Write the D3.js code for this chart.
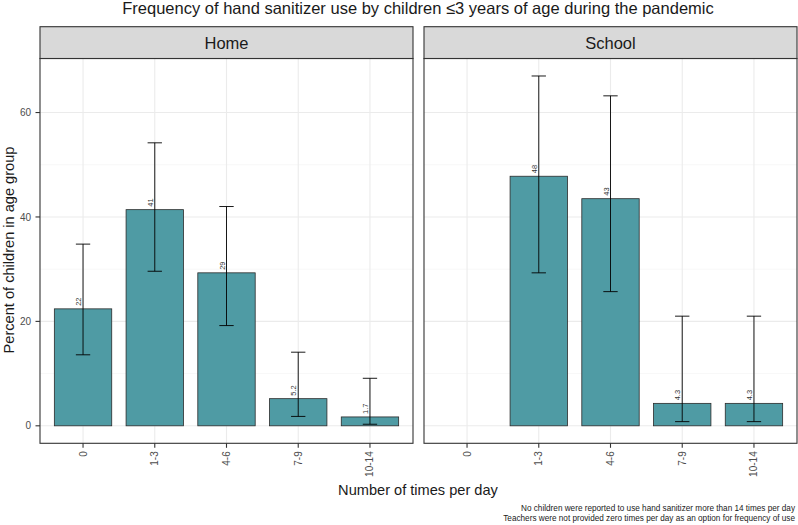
<!DOCTYPE html>
<html><head><meta charset="utf-8">
<script src="https://cdn.jsdelivr.net/npm/d3@7"></script>
<style>body{margin:0;background:#fff;} text{font-family:"Liberation Sans",Arial,sans-serif;}</style>
</head><body><svg id="c" width="798" height="525"></svg>
<script>
const categories = ["0","1-3","4-6","7-9","10-14"];
const panels = ["Home","School"];
const homeValues = [22.4, 41.4, 29.3, 5.2, 1.7];
const homeLabels = ["22","41","29","5.2","1.7"];
const homeLower = [13.6, 29.6, 19.2, 1.8, 0.3];
const homeUpper = [34.8, 54.2, 42.0, 14.1, 9.1];
const schoolValues = [null, 47.8, 43.5, 4.3, 4.3];
const schoolLabels = [null, "48","43","4.3","4.3"];
const schoolLower = [null, 29.3, 25.7, 0.8, 0.8];
const schoolUpper = [null, 67.0, 63.2, 21.0, 21.0];
const yTicks = [0,20,40,60];
const yMinor = [10,30,50];
const title = "Frequency of hand sanitizer use by children \u22643 years of age during the pandemic";
const xTitle = "Number of times per day";
const yTitle = "Percent of children in age group";
const captions = ["No children were reported to use hand sanitizer more than 14 times per day",
                  "Teachers were not provided zero times per day as an option for frequency of use"];

(function(){
const svg = d3.select("#c");
const panelData = [
  {name: panels[0], values: homeValues, labels: homeLabels, lower: homeLower, upper: homeUpper, x0: 40, x1: 413},
  {name: panels[1], values: schoolValues, labels: schoolLabels, lower: schoolLower, upper: schoolUpper, x0: 424, x1: 797}
];
const pTop = 58.5, pBottom = 443.3, stripTop = 26.7;
const y = d3.scaleLinear().domain([-3.35, 70.35]).range([pBottom, pTop]);

svg.append("text").attr("x", 418).attr("y", 14).attr("text-anchor","middle")
  .attr("font-size", 16.5).attr("fill","#1a1a1a").text(title);

panelData.forEach((p, pi) => {
  const x = d3.scaleBand().domain(categories).range([p.x0, p.x1]).paddingInner(0.2).paddingOuter(0.2);
  const bw = x.bandwidth();
  const step = x.step();
  const cx = d => x(d) + bw/2;
  const g = svg.append("g");
  yMinor.forEach(t => g.append("line").attr("x1", p.x0).attr("x2", p.x1).attr("y1", y(t)).attr("y2", y(t))
      .attr("stroke", "#f2f2f2").attr("stroke-width", 0.6));
  yTicks.forEach(t => g.append("line").attr("x1", p.x0).attr("x2", p.x1).attr("y1", y(t)).attr("y2", y(t))
      .attr("stroke", "#ebebeb").attr("stroke-width", 1.1));
  categories.forEach(c => g.append("line").attr("x1", cx(c)).attr("x2", cx(c)).attr("y1", pTop).attr("y2", pBottom)
      .attr("stroke", "#ebebeb").attr("stroke-width", 1.1));
  categories.forEach((c, i) => {
    const v = p.values[i];
    if (v == null) return;
    g.append("rect").attr("x", x(c)).attr("width", bw).attr("y", y(v)).attr("height", y(0) - y(v))
      .attr("fill", "#4f9ba4").attr("stroke", "#2b2b2b").attr("stroke-width", 0.8);
  });
  categories.forEach((c, i) => {
    if (p.values[i] == null) return;
    const xc = cx(c), hw = step * 0.1;
    g.append("line").attr("x1", xc).attr("x2", xc).attr("y1", y(p.lower[i])).attr("y2", y(p.upper[i])).attr("stroke","#000").attr("stroke-width",0.9);
    g.append("line").attr("x1", xc-hw).attr("x2", xc+hw).attr("y1", y(p.lower[i])).attr("y2", y(p.lower[i])).attr("stroke","#000").attr("stroke-width",0.9);
    g.append("line").attr("x1", xc-hw).attr("x2", xc+hw).attr("y1", y(p.upper[i])).attr("y2", y(p.upper[i])).attr("stroke","#000").attr("stroke-width",0.9);
  });
  categories.forEach((c, i) => {
    if (p.values[i] == null) return;
    const tx = cx(c) - 2, ty = y(p.values[i]) - 3;
    g.append("text").attr("transform", `translate(${tx},${ty}) rotate(-90)`).attr("text-anchor","start")
      .attr("font-size", 7.5).attr("fill","#333").text(p.labels[i]);
  });
  g.append("rect").attr("x", p.x0).attr("y", pTop).attr("width", p.x1 - p.x0).attr("height", pBottom - pTop)
    .attr("fill","none").attr("stroke","#333").attr("stroke-width",1.1);
  g.append("rect").attr("x", p.x0).attr("y", stripTop).attr("width", p.x1 - p.x0).attr("height", pTop - stripTop)
    .attr("fill","#d9d9d9").attr("stroke","#333").attr("stroke-width",1.1);
  g.append("text").attr("x", (p.x0+p.x1)/2).attr("y", 48.8).attr("text-anchor","middle")
    .attr("font-size", 16.5).attr("fill","#1a1a1a").text(p.name);
  categories.forEach(c => {
    g.append("line").attr("x1", cx(c)).attr("x2", cx(c)).attr("y1", pBottom).attr("y2", pBottom+4.5).attr("stroke","#333").attr("stroke-width",1.1);
    g.append("text").attr("transform", `translate(${cx(c)+3.5},${pBottom+8}) rotate(-90)`).attr("text-anchor","end")
      .attr("font-size", 10).attr("fill","#4d4d4d").text(c);
  });
  if (pi === 0) {
    yTicks.forEach(t => {
      g.append("line").attr("x1", p.x0-4.5).attr("x2", p.x0).attr("y1", y(t)).attr("y2", y(t)).attr("stroke","#333").attr("stroke-width",1.1);
      g.append("text").attr("x", p.x0-9).attr("y", y(t)+3.6).attr("text-anchor","end")
        .attr("font-size", 10).attr("fill","#4d4d4d").text(t);
    });
  }
});

svg.append("text").attr("x", 418).attr("y", 494.5).attr("text-anchor","middle").attr("font-size", 14.6).attr("fill","#1a1a1a").text(xTitle);
svg.append("text").attr("transform", `translate(14,250) rotate(-90)`).attr("text-anchor","middle").attr("font-size", 14.6).attr("fill","#1a1a1a").text(yTitle);
captions.forEach((c, i) => svg.append("text").attr("x", 795).attr("y", 511 + i*9.5).attr("text-anchor","end")
  .attr("font-size", 8.2).attr("fill","#1a1a1a").text(c));
})();
</script></body></html>
